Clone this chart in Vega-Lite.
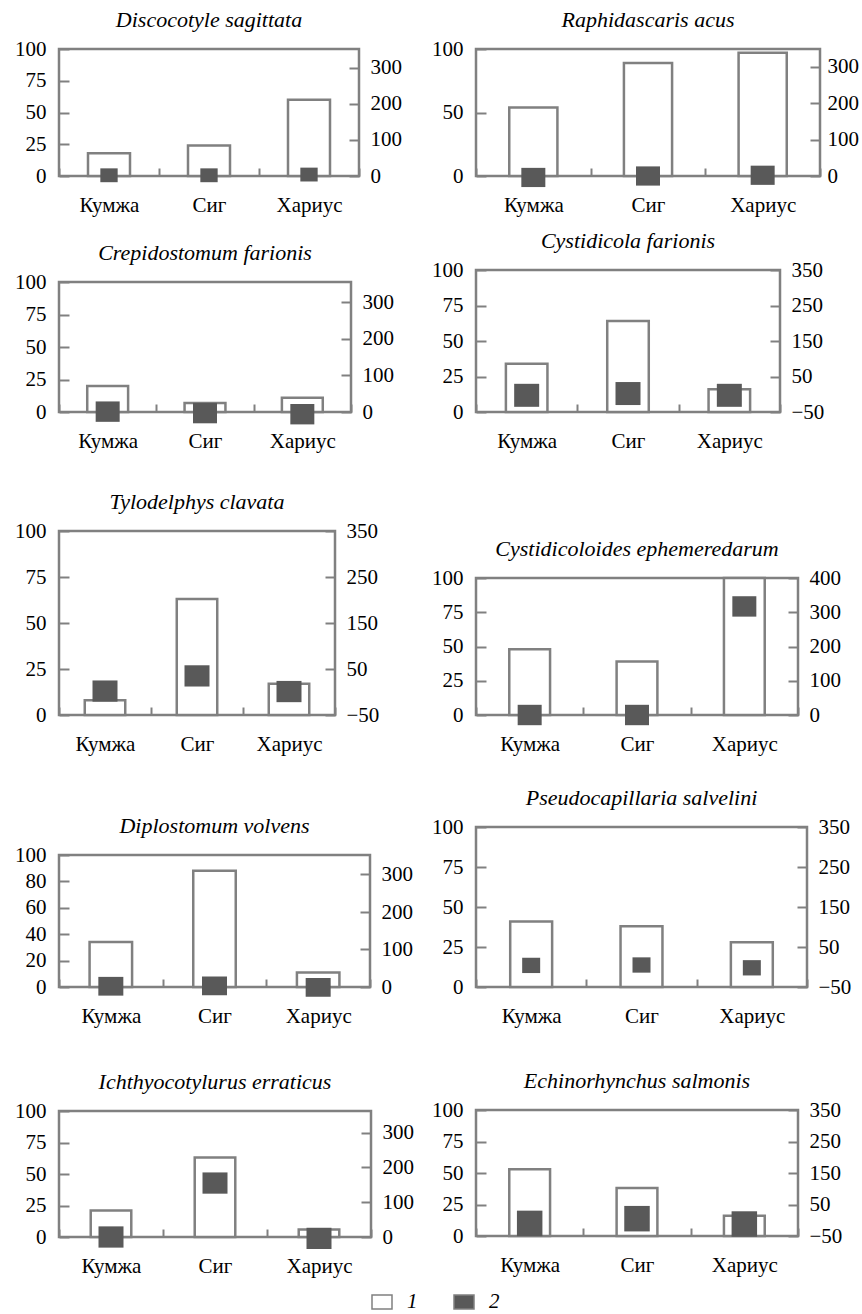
{
  "$schema": "https://vega.github.io/schema/vega-lite/v6.json",
  "background": "white",
  "padding": {"left": 13, "top": 7, "right": 0, "bottom": 0},
  "data": {"values": [
    {"parasite": "Discocotyle sagittata", "fish": "Кумжа", "measure": "1", "value": 18},
    {"parasite": "Discocotyle sagittata", "fish": "Сиг", "measure": "1", "value": 24},
    {"parasite": "Discocotyle sagittata", "fish": "Хариус", "measure": "1", "value": 60},
    {"parasite": "Discocotyle sagittata", "fish": "Кумжа", "measure": "2", "value": 2},
    {"parasite": "Discocotyle sagittata", "fish": "Сиг", "measure": "2", "value": 2},
    {"parasite": "Discocotyle sagittata", "fish": "Хариус", "measure": "2", "value": 4},
    {"parasite": "Raphidascaris acus", "fish": "Кумжа", "measure": "1", "value": 54},
    {"parasite": "Raphidascaris acus", "fish": "Сиг", "measure": "1", "value": 89},
    {"parasite": "Raphidascaris acus", "fish": "Хариус", "measure": "1", "value": 97},
    {"parasite": "Raphidascaris acus", "fish": "Кумжа", "measure": "2", "value": -4},
    {"parasite": "Raphidascaris acus", "fish": "Сиг", "measure": "2", "value": 0},
    {"parasite": "Raphidascaris acus", "fish": "Хариус", "measure": "2", "value": 2},
    {"parasite": "Crepidostomum farionis", "fish": "Кумжа", "measure": "1", "value": 20},
    {"parasite": "Crepidostomum farionis", "fish": "Сиг", "measure": "1", "value": 7},
    {"parasite": "Crepidostomum farionis", "fish": "Хариус", "measure": "1", "value": 11},
    {"parasite": "Crepidostomum farionis", "fish": "Кумжа", "measure": "2", "value": 1},
    {"parasite": "Crepidostomum farionis", "fish": "Сиг", "measure": "2", "value": -3},
    {"parasite": "Crepidostomum farionis", "fish": "Хариус", "measure": "2", "value": -6},
    {"parasite": "Cystidicola farionis", "fish": "Кумжа", "measure": "1", "value": 34},
    {"parasite": "Cystidicola farionis", "fish": "Сиг", "measure": "1", "value": 64},
    {"parasite": "Cystidicola farionis", "fish": "Хариус", "measure": "1", "value": 16},
    {"parasite": "Cystidicola farionis", "fish": "Кумжа", "measure": "2", "value": -3},
    {"parasite": "Cystidicola farionis", "fish": "Сиг", "measure": "2", "value": 2},
    {"parasite": "Cystidicola farionis", "fish": "Хариус", "measure": "2", "value": -3},
    {"parasite": "Tylodelphys clavata", "fish": "Кумжа", "measure": "1", "value": 8},
    {"parasite": "Tylodelphys clavata", "fish": "Сиг", "measure": "1", "value": 63},
    {"parasite": "Tylodelphys clavata", "fish": "Хариус", "measure": "1", "value": 17},
    {"parasite": "Tylodelphys clavata", "fish": "Кумжа", "measure": "2", "value": 2},
    {"parasite": "Tylodelphys clavata", "fish": "Сиг", "measure": "2", "value": 35},
    {"parasite": "Tylodelphys clavata", "fish": "Хариус", "measure": "2", "value": 1},
    {"parasite": "Cystidicoloides ephemeredarum", "fish": "Кумжа", "measure": "1", "value": 48},
    {"parasite": "Cystidicoloides ephemeredarum", "fish": "Сиг", "measure": "1", "value": 39},
    {"parasite": "Cystidicoloides ephemeredarum", "fish": "Хариус", "measure": "1", "value": 100},
    {"parasite": "Cystidicoloides ephemeredarum", "fish": "Кумжа", "measure": "2", "value": 0},
    {"parasite": "Cystidicoloides ephemeredarum", "fish": "Сиг", "measure": "2", "value": 0},
    {"parasite": "Cystidicoloides ephemeredarum", "fish": "Хариус", "measure": "2", "value": 317},
    {"parasite": "Diplostomum volvens", "fish": "Кумжа", "measure": "1", "value": 34},
    {"parasite": "Diplostomum volvens", "fish": "Сиг", "measure": "1", "value": 88},
    {"parasite": "Diplostomum volvens", "fish": "Хариус", "measure": "1", "value": 11},
    {"parasite": "Diplostomum volvens", "fish": "Кумжа", "measure": "2", "value": 2},
    {"parasite": "Diplostomum volvens", "fish": "Сиг", "measure": "2", "value": 3},
    {"parasite": "Diplostomum volvens", "fish": "Хариус", "measure": "2", "value": -1},
    {"parasite": "Pseudocapillaria salvelini", "fish": "Кумжа", "measure": "1", "value": 41},
    {"parasite": "Pseudocapillaria salvelini", "fish": "Сиг", "measure": "1", "value": 38},
    {"parasite": "Pseudocapillaria salvelini", "fish": "Хариус", "measure": "1", "value": 28},
    {"parasite": "Pseudocapillaria salvelini", "fish": "Кумжа", "measure": "2", "value": 4},
    {"parasite": "Pseudocapillaria salvelini", "fish": "Сиг", "measure": "2", "value": 5},
    {"parasite": "Pseudocapillaria salvelini", "fish": "Хариус", "measure": "2", "value": -2},
    {"parasite": "Ichthyocotylurus erraticus", "fish": "Кумжа", "measure": "1", "value": 21},
    {"parasite": "Ichthyocotylurus erraticus", "fish": "Сиг", "measure": "1", "value": 63},
    {"parasite": "Ichthyocotylurus erraticus", "fish": "Хариус", "measure": "1", "value": 6},
    {"parasite": "Ichthyocotylurus erraticus", "fish": "Кумжа", "measure": "2", "value": 0},
    {"parasite": "Ichthyocotylurus erraticus", "fish": "Сиг", "measure": "2", "value": 155},
    {"parasite": "Ichthyocotylurus erraticus", "fish": "Хариус", "measure": "2", "value": -4},
    {"parasite": "Echinorhynchus salmonis", "fish": "Кумжа", "measure": "1", "value": 53},
    {"parasite": "Echinorhynchus salmonis", "fish": "Сиг", "measure": "1", "value": 38},
    {"parasite": "Echinorhynchus salmonis", "fish": "Хариус", "measure": "1", "value": 16},
    {"parasite": "Echinorhynchus salmonis", "fish": "Кумжа", "measure": "2", "value": -10},
    {"parasite": "Echinorhynchus salmonis", "fish": "Сиг", "measure": "2", "value": 5},
    {"parasite": "Echinorhynchus salmonis", "fish": "Хариус", "measure": "2", "value": -12}
  ]},
  "spacing": 15,
  "hconcat": [
    {"spacing": 23, "vconcat": [
      {"width": 300, "height": 127, "title": "Discocotyle sagittata",
       "transform": [{"filter": "datum.parasite === 'Discocotyle sagittata'"}],
       "encoding": {"x": {"field": "fish", "type": "nominal", "sort": ["Кумжа", "Сиг", "Хариус"], "title": null, "scale": {"paddingInner": 0, "paddingOuter": 0}, "axis": {"labelAngle": 0, "tickBand": "extent"}}},
       "layer": [
         {"transform": [{"filter": "datum.measure === '1'"}],
          "mark": {"type": "bar", "stroke": "#808080", "strokeWidth": 2.5, "width": {"band": 0.42}},
          "encoding": {"y": {"field": "value", "type": "quantitative", "title": null, "scale": {"domain": [0, 100], "nice": false}, "axis": {"orient": "left", "values": [0, 25, 50, 75, 100]}},
                       "fill": {"field": "measure", "type": "nominal", "scale": {"domain": ["1", "2"], "range": ["#ffffff", "#595959"]},
                                "legend": {"orient": "none", "legendX": 312, "legendY": 1242, "direction": "horizontal", "title": null, "symbolType": "M-1,-0.7L1,-0.7L1,0.7L-1,0.7Z", "symbolSize": 400, "symbolStrokeColor": "#808080", "symbolStrokeWidth": 1.5, "symbolOpacity": 1, "labelFont": "Liberation Serif", "labelFontSize": 21, "labelFontStyle": "italic", "labelColor": "black", "columnPadding": 33, "labelOffset": 14, "padding": 0}}}},
         {"transform": [{"filter": "datum.measure === '2'"}],
          "mark": {"type": "point", "shape": "M-1,-0.8L1,-0.8L1,0.8L-1,0.8Z", "filled": true, "opacity": 1, "size": 300, "strokeWidth": 0},
          "encoding": {"y": {"field": "value", "type": "quantitative", "title": null, "scale": {"domain": [0, 352], "nice": false, "zero": false}, "axis": {"orient": "right", "values": [0, 100, 200, 300]}},
                       "fill": {"field": "measure", "type": "nominal"}}}
       ],
       "resolve": {"scale": {"y": "independent"}}},
      {"spacing": 36, "vconcat": [
        {"width": 292, "height": 130, "title": "Crepidostomum farionis",
         "transform": [{"filter": "datum.parasite === 'Crepidostomum farionis'"}],
         "encoding": {"x": {"field": "fish", "type": "nominal", "sort": ["Кумжа", "Сиг", "Хариус"], "title": null, "scale": {"paddingInner": 0, "paddingOuter": 0}, "axis": {"labelAngle": 0, "tickBand": "extent"}}},
         "layer": [
           {"transform": [{"filter": "datum.measure === '1'"}],
            "mark": {"type": "bar", "stroke": "#808080", "strokeWidth": 2.5, "width": {"band": 0.42}},
            "encoding": {"y": {"field": "value", "type": "quantitative", "title": null, "scale": {"domain": [0, 100], "nice": false}, "axis": {"orient": "left", "values": [0, 25, 50, 75, 100]}},
                         "fill": {"field": "measure", "type": "nominal"}}},
           {"transform": [{"filter": "datum.measure === '2'"}],
            "mark": {"type": "point", "shape": "M-1,-0.85L1,-0.85L1,0.85L-1,0.85Z", "filled": true, "opacity": 1, "size": 576, "strokeWidth": 0},
            "encoding": {"y": {"field": "value", "type": "quantitative", "title": null, "scale": {"domain": [0, 355], "nice": false, "zero": false}, "axis": {"orient": "right", "values": [0, 100, 200, 300]}},
                         "fill": {"field": "measure", "type": "nominal"}}}
         ],
         "resolve": {"scale": {"y": "independent"}}},
        {"spacing": 57, "vconcat": [
          {"width": 276, "height": 184, "title": "Tylodelphys clavata",
           "transform": [{"filter": "datum.parasite === 'Tylodelphys clavata'"}],
           "encoding": {"x": {"field": "fish", "type": "nominal", "sort": ["Кумжа", "Сиг", "Хариус"], "title": null, "scale": {"paddingInner": 0, "paddingOuter": 0}, "axis": {"labelAngle": 0, "tickBand": "extent"}}},
           "layer": [
             {"transform": [{"filter": "datum.measure === '1'"}],
              "mark": {"type": "bar", "stroke": "#808080", "strokeWidth": 2.5, "width": {"band": 0.44}},
              "encoding": {"y": {"field": "value", "type": "quantitative", "title": null, "scale": {"domain": [0, 100], "nice": false}, "axis": {"orient": "left", "values": [0, 25, 50, 75, 100]}},
                           "fill": {"field": "measure", "type": "nominal"}}},
             {"transform": [{"filter": "datum.measure === '2'"}],
              "mark": {"type": "point", "shape": "M-1,-0.85L1,-0.85L1,0.85L-1,0.85Z", "filled": true, "opacity": 1, "size": 625, "strokeWidth": 0},
              "encoding": {"y": {"field": "value", "type": "quantitative", "title": null, "scale": {"domain": [-50, 350], "nice": false, "zero": false}, "axis": {"orient": "right", "values": [-50, 50, 150, 250, 350]}},
                           "fill": {"field": "measure", "type": "nominal"}}}
           ],
           "resolve": {"scale": {"y": "independent"}}},
          {"spacing": 41, "vconcat": [
            {"width": 311, "height": 132, "title": "Diplostomum volvens",
             "transform": [{"filter": "datum.parasite === 'Diplostomum volvens'"}],
             "encoding": {"x": {"field": "fish", "type": "nominal", "sort": ["Кумжа", "Сиг", "Хариус"], "title": null, "scale": {"paddingInner": 0, "paddingOuter": 0}, "axis": {"labelAngle": 0, "tickBand": "extent"}}},
             "layer": [
               {"transform": [{"filter": "datum.measure === '1'"}],
                "mark": {"type": "bar", "stroke": "#808080", "strokeWidth": 2.5, "width": {"band": 0.41}},
                "encoding": {"y": {"field": "value", "type": "quantitative", "title": null, "scale": {"domain": [0, 100], "nice": false}, "axis": {"orient": "left", "values": [0, 20, 40, 60, 80, 100]}},
                             "fill": {"field": "measure", "type": "nominal"}}},
               {"transform": [{"filter": "datum.measure === '2'"}],
                "mark": {"type": "point", "shape": "M-1,-0.75L1,-0.75L1,0.75L-1,0.75Z", "filled": true, "opacity": 1, "size": 625, "strokeWidth": 0},
                "encoding": {"y": {"field": "value", "type": "quantitative", "title": null, "scale": {"domain": [0, 352], "nice": false, "zero": false}, "axis": {"orient": "right", "values": [0, 100, 200, 300]}},
                             "fill": {"field": "measure", "type": "nominal"}}}
             ],
             "resolve": {"scale": {"y": "independent"}}},
            {"width": 312, "height": 126, "title": "Ichthyocotylurus erraticus",
             "transform": [{"filter": "datum.parasite === 'Ichthyocotylurus erraticus'"}],
             "encoding": {"x": {"field": "fish", "type": "nominal", "sort": ["Кумжа", "Сиг", "Хариус"], "title": null, "scale": {"paddingInner": 0, "paddingOuter": 0}, "axis": {"labelAngle": 0, "tickBand": "extent"}}},
             "layer": [
               {"transform": [{"filter": "datum.measure === '1'"}],
                "mark": {"type": "bar", "stroke": "#808080", "strokeWidth": 2.5, "width": {"band": 0.39}},
                "encoding": {"y": {"field": "value", "type": "quantitative", "title": null, "scale": {"domain": [0, 100], "nice": false}, "axis": {"orient": "left", "values": [0, 25, 50, 75, 100]}},
                             "fill": {"field": "measure", "type": "nominal"}}},
               {"transform": [{"filter": "datum.measure === '2'"}],
                "mark": {"type": "point", "shape": "M-1,-0.85L1,-0.85L1,0.85L-1,0.85Z", "filled": true, "opacity": 1, "size": 625, "strokeWidth": 0},
                "encoding": {"y": {"field": "value", "type": "quantitative", "title": null, "scale": {"domain": [0, 362], "nice": false, "zero": false}, "axis": {"orient": "right", "values": [0, 100, 200, 300]}},
                             "fill": {"field": "measure", "type": "nominal"}}}
             ],
             "resolve": {"scale": {"y": "independent"}}}
          ]}
        ]}
      ]}
    ]},
    {"spacing": 11, "vconcat": [
      {"width": 344, "height": 127, "title": "Raphidascaris acus",
       "transform": [{"filter": "datum.parasite === 'Raphidascaris acus'"}],
       "encoding": {"x": {"field": "fish", "type": "nominal", "sort": ["Кумжа", "Сиг", "Хариус"], "title": null, "scale": {"paddingInner": 0, "paddingOuter": 0}, "axis": {"labelAngle": 0, "tickBand": "extent"}}},
       "layer": [
         {"transform": [{"filter": "datum.measure === '1'"}],
          "mark": {"type": "bar", "stroke": "#808080", "strokeWidth": 2.5, "width": {"band": 0.42}},
          "encoding": {"y": {"field": "value", "type": "quantitative", "title": null, "scale": {"domain": [0, 100], "nice": false}, "axis": {"orient": "left", "values": [0, 50, 100]}},
                       "fill": {"field": "measure", "type": "nominal"}}},
         {"transform": [{"filter": "datum.measure === '2'"}],
          "mark": {"type": "point", "shape": "M-1,-0.8L1,-0.8L1,0.8L-1,0.8Z", "filled": true, "opacity": 1, "size": 576, "strokeWidth": 0},
          "encoding": {"y": {"field": "value", "type": "quantitative", "title": null, "scale": {"domain": [0, 348], "nice": false, "zero": false}, "axis": {"orient": "right", "values": [0, 100, 200, 300], "labelPadding": 17}},
                       "fill": {"field": "measure", "type": "nominal"}}}
       ],
       "resolve": {"scale": {"y": "independent"}}},
      {"spacing": 83, "vconcat": [
        {"width": 304, "height": 142, "title": "Cystidicola farionis",
         "transform": [{"filter": "datum.parasite === 'Cystidicola farionis'"}],
         "encoding": {"x": {"field": "fish", "type": "nominal", "sort": ["Кумжа", "Сиг", "Хариус"], "title": null, "scale": {"paddingInner": 0, "paddingOuter": 0}, "axis": {"labelAngle": 0, "tickBand": "extent"}}},
         "layer": [
           {"transform": [{"filter": "datum.measure === '1'"}],
            "mark": {"type": "bar", "stroke": "#808080", "strokeWidth": 2.5, "width": {"band": 0.41}},
            "encoding": {"y": {"field": "value", "type": "quantitative", "title": null, "scale": {"domain": [0, 100], "nice": false}, "axis": {"orient": "left", "values": [0, 25, 50, 75, 100]}},
                         "fill": {"field": "measure", "type": "nominal"}}},
           {"transform": [{"filter": "datum.measure === '2'"}],
            "mark": {"type": "point", "shape": "M-1,-0.92L1,-0.92L1,0.92L-1,0.92Z", "filled": true, "opacity": 1, "size": 625, "strokeWidth": 0},
            "encoding": {"y": {"field": "value", "type": "quantitative", "title": null, "scale": {"domain": [-50, 350], "nice": false, "zero": false}, "axis": {"orient": "right", "values": [-50, 50, 150, 250, 350]}},
                         "fill": {"field": "measure", "type": "nominal"}}}
         ],
         "resolve": {"scale": {"y": "independent"}}},
        {"spacing": 29, "vconcat": [
          {"width": 322, "height": 137, "title": "Cystidicoloides ephemeredarum",
           "transform": [{"filter": "datum.parasite === 'Cystidicoloides ephemeredarum'"}],
           "encoding": {"x": {"field": "fish", "type": "nominal", "sort": ["Кумжа", "Сиг", "Хариус"], "title": null, "scale": {"paddingInner": 0, "paddingOuter": 0}, "axis": {"labelAngle": 0, "tickBand": "extent"}}},
           "layer": [
             {"transform": [{"filter": "datum.measure === '1'"}],
              "mark": {"type": "bar", "stroke": "#808080", "strokeWidth": 2.5, "width": {"band": 0.38}},
              "encoding": {"y": {"field": "value", "type": "quantitative", "title": null, "scale": {"domain": [0, 100], "nice": false}, "axis": {"orient": "left", "values": [0, 25, 50, 75, 100]}},
                           "fill": {"field": "measure", "type": "nominal"}}},
             {"transform": [{"filter": "datum.measure === '2'"}],
              "mark": {"type": "point", "shape": "M-1,-0.85L1,-0.85L1,0.85L-1,0.85Z", "filled": true, "opacity": 1, "size": 576, "strokeWidth": 0},
              "encoding": {"y": {"field": "value", "type": "quantitative", "title": null, "scale": {"domain": [0, 400], "nice": false, "zero": false}, "axis": {"orient": "right", "values": [0, 100, 200, 300, 400]}},
                           "fill": {"field": "measure", "type": "nominal"}}}
           ],
           "resolve": {"scale": {"y": "independent"}}},
          {"spacing": 40, "vconcat": [
            {"width": 331, "height": 160, "title": "Pseudocapillaria salvelini",
             "transform": [{"filter": "datum.parasite === 'Pseudocapillaria salvelini'"}],
             "encoding": {"x": {"field": "fish", "type": "nominal", "sort": ["Кумжа", "Сиг", "Хариус"], "title": null, "scale": {"paddingInner": 0, "paddingOuter": 0}, "axis": {"labelAngle": 0, "tickBand": "extent"}}},
             "layer": [
               {"transform": [{"filter": "datum.measure === '1'"}],
                "mark": {"type": "bar", "stroke": "#808080", "strokeWidth": 2.5, "width": {"band": 0.38}},
                "encoding": {"y": {"field": "value", "type": "quantitative", "title": null, "scale": {"domain": [0, 100], "nice": false}, "axis": {"orient": "left", "values": [0, 25, 50, 75, 100]}},
                             "fill": {"field": "measure", "type": "nominal"}}},
               {"transform": [{"filter": "datum.measure === '2'"}],
                "mark": {"type": "point", "shape": "M-1,-0.85L1,-0.85L1,0.85L-1,0.85Z", "filled": true, "opacity": 1, "size": 324, "strokeWidth": 0},
                "encoding": {"y": {"field": "value", "type": "quantitative", "title": null, "scale": {"domain": [-50, 350], "nice": false, "zero": false}, "axis": {"orient": "right", "values": [-50, 50, 150, 250, 350]}},
                             "fill": {"field": "measure", "type": "nominal"}}}
             ],
             "resolve": {"scale": {"y": "independent"}}},
            {"width": 322, "height": 126, "title": "Echinorhynchus salmonis",
             "transform": [{"filter": "datum.parasite === 'Echinorhynchus salmonis'"}],
             "encoding": {"x": {"field": "fish", "type": "nominal", "sort": ["Кумжа", "Сиг", "Хариус"], "title": null, "scale": {"paddingInner": 0, "paddingOuter": 0}, "axis": {"labelAngle": 0, "tickBand": "extent"}}},
             "layer": [
               {"transform": [{"filter": "datum.measure === '1'"}],
                "mark": {"type": "bar", "stroke": "#808080", "strokeWidth": 2.5, "width": {"band": 0.38}},
                "encoding": {"y": {"field": "value", "type": "quantitative", "title": null, "scale": {"domain": [0, 100], "nice": false}, "axis": {"orient": "left", "values": [0, 25, 50, 75, 100]}},
                             "fill": {"field": "measure", "type": "nominal"}}},
               {"transform": [{"filter": "datum.measure === '2'"}],
                "mark": {"type": "point", "shape": "M-1,-1L1,-1L1,1L-1,1Z", "filled": true, "opacity": 1, "size": 650, "strokeWidth": 0},
                "encoding": {"y": {"field": "value", "type": "quantitative", "title": null, "scale": {"domain": [-50, 350], "nice": false, "zero": false}, "axis": {"orient": "right", "values": [-50, 50, 150, 250, 350]}},
                             "fill": {"field": "measure", "type": "nominal"}}}
             ],
             "resolve": {"scale": {"y": "independent"}}}
          ]}
        ]}
      ]}
    ]}
  ],
  "config": {
    "font": "Liberation Serif",
    "view": {"stroke": "#808080", "strokeWidth": 2.5},
    "axis": {"domain": false, "grid": false, "labelFont": "Liberation Serif", "labelFontSize": 21, "labelColor": "black", "tickColor": "#808080", "tickWidth": 2},
    "axisX": {"tickSize": -8, "labelPadding": 26},
    "axisLeft": {"tickSize": -10, "labelPadding": 23},
    "axisRight": {"tickSize": -10, "labelPadding": 21},
    "title": {"font": "Liberation Serif", "fontSize": 22, "fontStyle": "italic", "fontWeight": "normal", "color": "black", "offset": 6, "anchor": "middle"}
  }
}
